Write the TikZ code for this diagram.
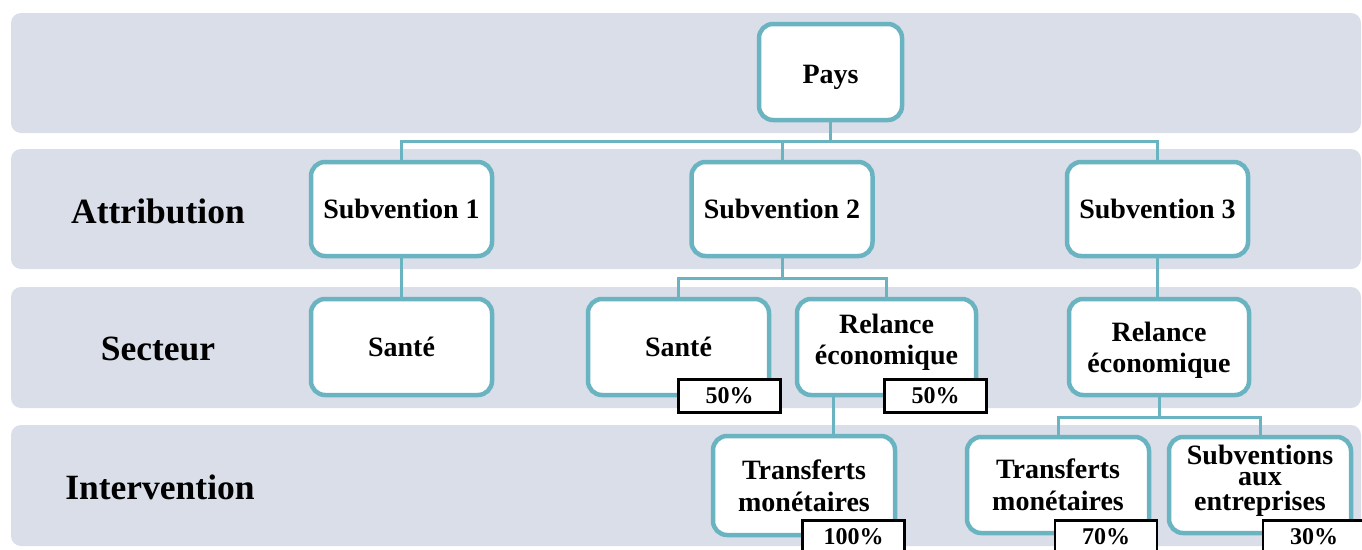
\documentclass[tikz,border=0pt]{standalone}
\usepackage{fontspec}
\setmainfont{Liberation Serif}
\definecolor{teal1}{RGB}{106,180,194}
\definecolor{bandc}{RGB}{218,222,233}
\begin{document}
\begin{tikzpicture}[x=1pt,y=-1pt,
  band/.style={fill=bandc,draw=none,rounded corners=10pt},
  lvl/.style={font=\bfseries\fontsize{35.5}{40}\selectfont,anchor=center},
  box/.style={draw=teal1,line width=4.5pt,fill=white,rounded corners=14pt,align=center,
    inner sep=2pt,font=\bfseries\fontsize{28}{32}\selectfont},
  pct/.style={draw=black,line width=2.5pt,fill=white,minimum width=102pt,minimum height=33pt,
    inner sep=0pt,font=\bfseries\fontsize{24}{28}\selectfont},
  conn/.style={draw=teal1,line width=3pt}]
\useasboundingbox (0,0) rectangle (1362,549);
\clip (0,0) rectangle (1362,549);
% bands
\fill[band] (11,13) rectangle (1361,133);
\fill[band] (11,149) rectangle (1361,269);
\fill[band] (11,287) rectangle (1361,408);
\fill[band] (11,425) rectangle (1361,546);
% level labels
\node[lvl] (lA) at (158,211) {Attribution};
\node[lvl] (lS) at (158,349) {Secteur};
\node[lvl] (lI) at (160,487) {Intervention};
% junction coordinates
\coordinate (j1) at (830.5,141);
\coordinate (j2) at (782,278);
\coordinate (j3) at (1159,417);
% nodes
\node[box,minimum width=143pt,minimum height=96pt] (pays) at (830.5,72) {\raisebox{-5pt}[\height][\depth]{Pays}};
\node[box,minimum width=181pt,minimum height=94pt] (s1) at (401.5,209) {Subvention 1};
\node[box,minimum width=181pt,minimum height=94pt] (s2) at (782,209) {Subvention 2};
\node[box,minimum width=181pt,minimum height=94pt] (s3) at (1157.5,209) {Subvention 3};
\node[box,minimum width=181pt,minimum height=96pt] (sa1) at (401.5,347) {Santé};
\node[box,minimum width=181pt,minimum height=96pt] (sa2) at (678.5,347) {Santé};
\node[box,minimum width=179pt,minimum height=96pt] (r2) at (886.5,347) {\raisebox{4pt}[\height][\depth]{\begin{tabular}{@{}c@{}}Relance\\[-1pt]économique\end{tabular}}};
\node[box,minimum width=180pt,minimum height=96pt] (r3) at (1159,347) {\raisebox{-4pt}[\height][\depth]{\begin{tabular}{@{}c@{}}Relance\\[-1pt]économique\end{tabular}}};
\node[box,minimum width=182pt,minimum height=99pt] (t1) at (804,485.5) {Transferts\\monétaires};
\node[box,minimum width=182pt,minimum height=96pt] (t2) at (1058,485) {Transferts\\monétaires};
\node[box,minimum width=182pt,minimum height=96pt,font=\bfseries\fontsize{28}{21}\selectfont] (se) at (1260,485) {\raisebox{4pt}[\height][\depth]{\begin{tabular}{@{}c@{}}Subventions\\aux\\entreprises\end{tabular}}};
% connectors between nodes
\draw[conn] (pays.south) -- (j1);
\draw[conn] (s1.north) |- (j1);
\draw[conn] (s2.north) |- (j1);
\draw[conn] (s3.north) |- (j1);
\draw[conn] (s1.south) -- (sa1.north);
\draw[conn] (s2.south) -- (j2);
\draw[conn] (sa2.north) |- (j2);
\draw[conn] (r2.north) |- (j2);
\draw[conn] (s3.south) -- (s3.south |- r3.north);
\draw[conn] (r2.south -| 833,0) -- (t1.north -| 833,0);
\draw[conn] (r3.south) -- (j3);
\draw[conn] (t2.north) |- (j3);
\draw[conn] (se.north) |- (j3);
% percentage boxes
\node[pct] (p1) at (729.5,396) {50\%};
\node[pct] (p2) at (935.5,396) {50\%};
\node[pct] (p3) at (853.5,537) {100\%};
\node[pct] (p4) at (1106,537) {70\%};
\node[pct] (p5) at (1314,537) {30\%};
\end{tikzpicture}
\end{document}
